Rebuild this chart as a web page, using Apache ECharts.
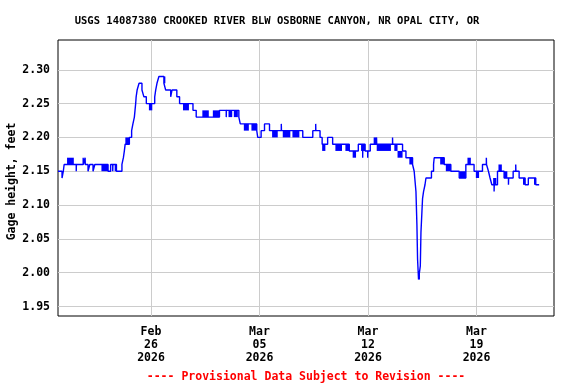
<!DOCTYPE html>
<html>
<head>
<meta charset="utf-8">
<script src="https://cdn.jsdelivr.net/npm/echarts@6/dist/echarts.min.js"></script>
<style>html,body{margin:0;padding:0;background:#fff;}#c{width:576px;height:384px;}</style>
</head>
<body>
<div id="c"></div>
<script>
// ---- data ----
const chartTitle = 'USGS 14087380 CROOKED RIVER BLW OSBORNE CANYON, NR OPAL CITY, OR';
const yAxisTitle = 'Gage height, feet';
const footNote = '---- Provisional Data Subject to Revision ----';
const xStart = '2026-02-20 00:00';
const xEnd = '2026-03-24 00:00';
const xTickDates = ['2026-02-26 00:00', '2026-03-05 00:00', '2026-03-12 00:00', '2026-03-19 00:00'];
const yTicks = [1.95, 2.00, 2.05, 2.10, 2.15, 2.20, 2.25, 2.30];
const yMin = 1.936, yMax = 2.344;

// step line: time at which the gage height changes to the value
const lineTimes = [
'2026-02-20 00:00','2026-02-20 06:15','2026-02-20 08:15','2026-02-20 09:30','2026-02-21 04:15','2026-02-21 04:30',
'2026-02-21 15:00','2026-02-21 15:15','2026-02-21 18:00','2026-02-21 18:15','2026-02-21 22:30','2026-02-22 01:15',
'2026-02-22 06:15','2026-02-22 09:00','2026-02-23 05:30','2026-02-23 09:30','2026-02-23 12:45','2026-02-23 13:00',
'2026-02-23 18:30','2026-02-24 03:00','2026-02-24 05:15','2026-02-24 06:45','2026-02-24 08:00','2026-02-24 14:30',
'2026-02-24 18:00','2026-02-24 20:00','2026-02-24 22:15','2026-02-24 23:15','2026-02-25 00:15','2026-02-25 01:00',
'2026-02-25 02:30','2026-02-25 05:30','2026-02-25 10:00','2026-02-25 13:00','2026-02-25 16:45','2026-02-26 05:45',
'2026-02-26 07:15','2026-02-26 09:15','2026-02-26 12:15','2026-02-26 20:00','2026-02-26 22:45','2026-02-27 06:30',
'2026-02-27 08:30','2026-02-27 16:00','2026-02-27 20:15','2026-02-28 17:00','2026-02-28 22:00','2026-03-02 10:00',
'2026-03-02 20:30','2026-03-02 20:45','2026-03-03 16:00','2026-03-03 18:15','2026-03-04 19:45','2026-03-04 21:15',
'2026-03-05 02:30','2026-03-05 07:45','2026-03-05 15:30','2026-03-06 09:45','2026-03-06 10:00','2026-03-07 19:00',
'2026-03-08 10:30','2026-03-08 15:00','2026-03-08 15:15','2026-03-08 21:45','2026-03-09 01:00','2026-03-09 09:30',
'2026-03-09 17:15','2026-03-10 19:00','2026-03-11 09:00','2026-03-11 15:45','2026-03-11 16:00','2026-03-11 19:30',
'2026-03-11 23:30','2026-03-11 23:45','2026-03-12 03:30','2026-03-12 13:15','2026-03-12 13:30','2026-03-13 14:00',
'2026-03-13 14:15','2026-03-14 05:30','2026-03-14 10:45','2026-03-14 21:00','2026-03-14 23:30','2026-03-15 02:15',
'2026-03-15 03:45','2026-03-15 04:45','2026-03-15 06:15','2026-03-15 09:00','2026-03-15 10:00','2026-03-15 11:30',
'2026-03-15 12:30','2026-03-15 14:00','2026-03-15 16:15','2026-03-15 17:45','2026-03-16 02:15','2026-03-16 05:30',
'2026-03-16 06:30','2026-03-16 22:00','2026-03-17 08:15','2026-03-17 21:15','2026-03-18 07:30','2026-03-18 20:15',
'2026-03-19 09:15','2026-03-19 15:15','2026-03-19 15:30','2026-03-19 18:30','2026-03-19 21:00','2026-03-19 23:45',
'2026-03-20 03:15','2026-03-20 03:30','2026-03-20 08:30','2026-03-20 18:45','2026-03-21 01:30','2026-03-21 01:45',
'2026-03-21 08:45','2026-03-21 12:45','2026-03-21 13:00','2026-03-21 18:00','2026-03-22 03:15','2026-03-22 08:15',
'2026-03-22 19:45','2026-03-23 01:00'
];
const lineValues = [
2.15,2.14,2.15,2.16,2.15,2.16,
2.17,2.16,2.17,2.16,2.15,2.16,
2.15,2.16,2.15,2.16,2.15,2.16,
2.15,2.16,2.17,2.18,2.19,2.20,
2.21,2.22,2.23,2.24,2.25,2.26,
2.27,2.28,2.27,2.26,2.25,2.26,
2.27,2.28,2.29,2.28,2.27,2.26,
2.27,2.26,2.25,2.24,2.23,2.24,
2.23,2.24,2.23,2.22,2.21,2.20,
2.21,2.22,2.21,2.22,2.21,2.20,
2.21,2.22,2.21,2.20,2.19,2.20,
2.19,2.18,2.19,2.17,2.19,2.18,
2.17,2.18,2.19,2.20,2.19,2.20,
2.19,2.18,2.17,2.16,2.15,2.12,
2.07,2.02,1.99,2.01,2.06,2.09,
2.11,2.12,2.13,2.14,2.15,2.16,
2.17,2.16,2.15,2.14,2.16,2.15,
2.16,2.17,2.16,2.15,2.14,2.13,
2.12,2.13,2.15,2.14,2.13,2.14,
2.15,2.16,2.15,2.14,2.13,2.14,
2.13,2.13
];

// periods where readings flicker between two levels (drawn as solid blocks)
const bandStart = [
'2026-02-20 14:00','2026-02-22 19:15','2026-02-23 15:45','2026-02-24 08:15','2026-02-25 20:45','2026-02-26 20:00',
'2026-02-28 01:30','2026-03-01 07:30','2026-03-01 23:45','2026-03-03 00:00','2026-03-03 08:15','2026-03-03 23:45',
'2026-03-04 11:30','2026-03-05 19:30','2026-03-06 12:00','2026-03-07 03:00','2026-03-09 01:00','2026-03-09 21:30',
'2026-03-10 13:00','2026-03-11 00:15','2026-03-11 13:15','2026-03-12 08:45','2026-03-12 13:30','2026-03-13 16:45',
'2026-03-13 21:45','2026-03-14 16:00','2026-03-15 06:15','2026-03-16 15:45','2026-03-17 00:30','2026-03-17 22:00',
'2026-03-18 10:00','2026-03-18 23:00','2026-03-20 01:45','2026-03-20 10:00','2026-03-20 18:45','2026-03-22 00:00',
'2026-03-22 17:00'
];
const bandEnd = [
'2026-02-21 00:30','2026-02-23 05:30','2026-02-23 18:30','2026-02-24 14:30','2026-02-26 02:00','2026-02-26 22:15',
'2026-02-28 10:45','2026-03-01 17:30','2026-03-02 10:00','2026-03-03 05:45','2026-03-03 14:30','2026-03-04 07:30',
'2026-03-04 19:45','2026-03-06 04:15','2026-03-06 23:45','2026-03-07 13:45','2026-03-09 06:00','2026-03-10 07:45',
'2026-03-10 19:00','2026-03-11 05:30','2026-03-11 19:30','2026-03-12 13:15','2026-03-13 11:30','2026-03-13 21:45',
'2026-03-14 05:30','2026-03-14 21:00','2026-03-15 08:30','2026-03-16 22:00','2026-03-17 08:15','2026-03-18 07:30',
'2026-03-18 15:15','2026-03-19 04:00','2026-03-20 06:45','2026-03-20 15:15','2026-03-20 23:45','2026-03-22 03:15',
'2026-03-22 19:45'
];
const bandLow = [
2.16,2.15,2.15,2.19,2.24,2.28,
2.24,2.23,2.23,2.23,2.23,2.21,
2.21,2.20,2.20,2.20,2.18,2.18,
2.18,2.17,2.18,2.19,2.18,2.18,
2.17,2.16,1.99,2.16,2.15,2.14,
2.16,2.14,2.13,2.15,2.14,2.13,
2.13
];
const bandHigh = [
2.17,2.16,2.16,2.20,2.25,2.29,
2.25,2.24,2.24,2.24,2.24,2.22,
2.22,2.21,2.21,2.21,2.19,2.19,
2.19,2.18,2.19,2.20,2.19,2.19,
2.18,2.17,2.00,2.17,2.16,2.15,
2.17,2.15,2.14,2.16,2.15,2.14,
2.14
];

// ---- build chart ----
function toMs(s) { return new Date(s.replace(' ', 'T') + ':00').getTime(); }
const MONTHS = ['Jan','Feb','Mar','Apr','May','Jun','Jul','Aug','Sep','Oct','Nov','Dec'];
const FONT = '"DejaVu Sans Mono", "Liberation Mono", monospace';
const BLUE = '#0000ff';

const lineData = lineTimes.map((t, i) => [toMs(t), lineValues[i]]);
const bandData = bandStart.map((s, i) => [toMs(s), toMs(bandEnd[i]), bandLow[i], bandHigh[i]]);
const xTickMs = xTickDates.map(toMs);

const chart = echarts.init(document.getElementById('c'), null, {renderer: 'canvas'});
chart.setOption({
  animation: false,
  backgroundColor: '#fff',
  title: [
    {text: chartTitle, left: 277, top: 16, textAlign: 'center', padding: 0,
     textStyle: {fontFamily: FONT, fontWeight: 'bold', fontSize: 10.5, color: '#000'}},
    {text: footNote, left: 306, top: 371, textAlign: 'center', padding: 0,
     textStyle: {fontFamily: FONT, fontWeight: 'bold', fontSize: 11.5, color: '#ff0000'}}
  ],
  grid: {left: 58, right: 22, top: 40, bottom: 68, show: true, borderColor: '#000', borderWidth: 1,
         backgroundColor: 'transparent', containLabel: false, outerBoundsMode: 'none'},
  xAxis: {
    type: 'value', min: toMs(xStart), max: toMs(xEnd),
    axisLine: {show: false},
    axisTick: {show: false, customValues: xTickMs},
    splitLine: {show: true, lineStyle: {color: '#cccccc', width: 1}},
    axisLabel: {
      customValues: xTickMs,
      margin: 10, lineHeight: 13,
      fontFamily: FONT, fontWeight: 'bold', fontSize: 11.5, color: '#000',
      formatter: function (v) {
        const d = new Date(v);
        const dd = String(d.getDate()).padStart(2, '0');
        return MONTHS[d.getMonth()] + '\n' + dd + '\n' + d.getFullYear();
      }
    }
  },
  yAxis: {
    type: 'value', min: yMin, max: yMax,
    name: yAxisTitle, nameLocation: 'middle', nameGap: 40, nameRotate: 90, nameMoveOverlap: false,
    nameTextStyle: {fontFamily: FONT, fontWeight: 'bold', fontSize: 11.5, color: '#000', padding: [0, 7, 0, 0]},
    axisLine: {show: false},
    axisTick: {show: false, customValues: yTicks},
    splitLine: {show: true, lineStyle: {color: '#cccccc', width: 1}},
    axisLabel: {
      customValues: yTicks, margin: 8,
      fontFamily: FONT, fontWeight: 'bold', fontSize: 11.5, color: '#000',
      formatter: v => Number(v).toFixed(2)
    }
  },
  series: [
    {
      type: 'custom', name: 'flicker', clip: true,
      encode: {x: [0, 1], y: [2, 3]},
      data: bandData,
      renderItem: function (params, api) {
        const p1 = api.coord([api.value(0), api.value(3)]);
        const p2 = api.coord([api.value(1), api.value(2)]);
        return {type: 'rect', shape: {x: p1[0], y: p1[1], width: Math.max(p2[0] - p1[0], 1), height: p2[1] - p1[1]},
                style: {fill: BLUE}};
      },
      z: 2
    },
    {
      type: 'line', name: 'Gage height', step: 'end', showSymbol: false,
      data: lineData,
      lineStyle: {color: BLUE, width: 1.4},
      z: 3
    }
  ]
});
</script>
</body>
</html>
